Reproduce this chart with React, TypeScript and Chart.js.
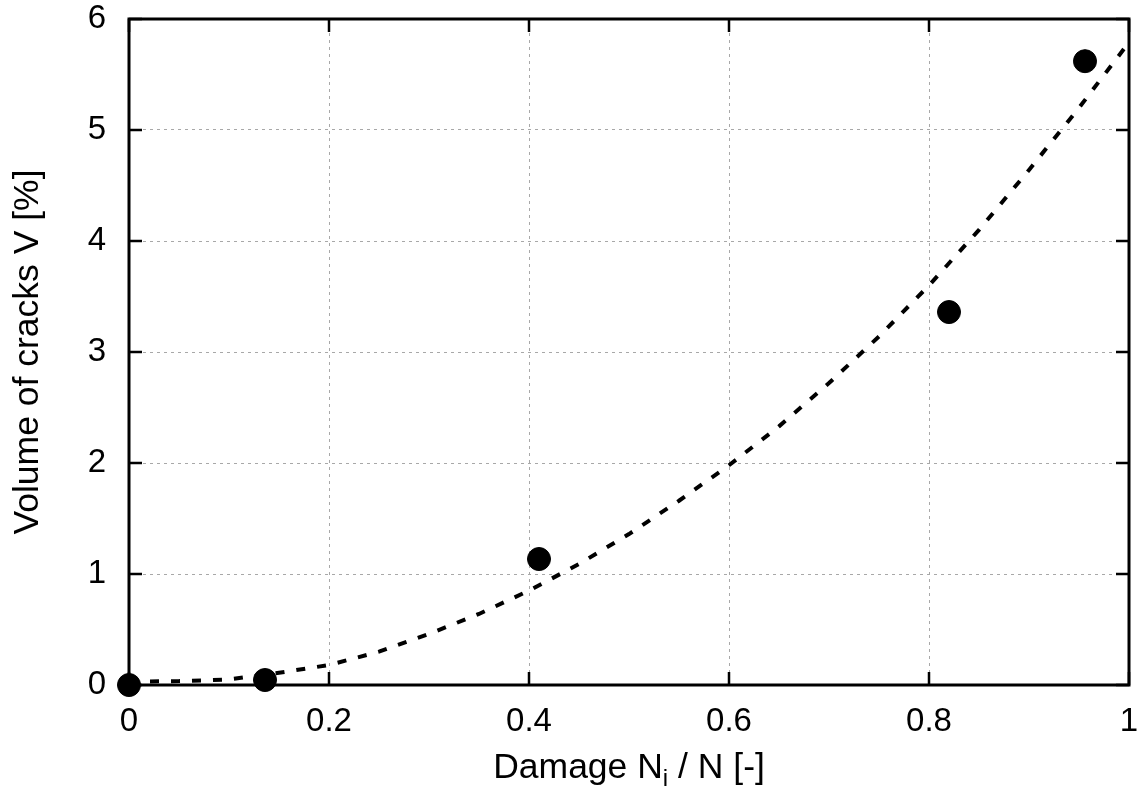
import React, { useEffect, useRef } from "react";
import { Chart, registerables } from "chart.js";

Chart.register(...registerables);

// Measured points
const damageX = [0, 0.136, 0.41, 0.82, 0.956];
const crackVolume = [0, 0.045, 1.135, 3.36, 5.62];

// Fitted trend curve
const fitX = [0, 0.05, 0.1, 0.15, 0.2, 0.25, 0.3, 0.35, 0.4, 0.45, 0.5, 0.55, 0.6, 0.65, 0.7, 0.75, 0.8, 0.85, 0.9, 0.95, 1.0];
const fitY = [0.03, 0.035, 0.05, 0.11, 0.18, 0.3, 0.46, 0.64, 0.85, 1.09, 1.36, 1.66, 1.98, 2.33, 2.72, 3.14, 3.6, 4.1, 4.64, 5.2, 5.79];

const xTicks = [0, 0.2, 0.4, 0.6, 0.8, 1];
const yTicks = [0, 1, 2, 3, 4, 5, 6];

const xTitleMain = "Damage N";
const xTitleSub = "i";
const xTitleRest = " / N [-]";
const yTitle = "Volume of cracks V [%]";

const FONT = "'Liberation Sans', Arial, sans-serif";

const framePlugin = {
  id: "framePlugin",
  beforeDatasetsDraw(chart: any) {
    const { ctx, chartArea: a, scales } = chart;
    ctx.save();
    ctx.strokeStyle = "#000";
    ctx.lineWidth = 2.5;
    ctx.setLineDash([]);
    const tl = 13;
    for (const v of xTicks) {
      const px = scales.x.getPixelForValue(v);
      ctx.beginPath();
      ctx.moveTo(px, a.bottom);
      ctx.lineTo(px, a.bottom - tl);
      ctx.moveTo(px, a.top);
      ctx.lineTo(px, a.top + tl);
      ctx.stroke();
    }
    for (const v of yTicks) {
      const py = scales.y.getPixelForValue(v);
      ctx.beginPath();
      ctx.moveTo(a.left, py);
      ctx.lineTo(a.left + tl, py);
      ctx.moveTo(a.right, py);
      ctx.lineTo(a.right - tl, py);
      ctx.stroke();
    }
    ctx.lineWidth = 3;
    ctx.strokeRect(a.left, a.top, a.right - a.left, a.bottom - a.top);
    ctx.restore();
  },
  afterDraw(chart: any) {
    const { ctx, chartArea: a } = chart;
    ctx.save();
    ctx.fillStyle = "#000";
    // x title with subscript
    const big = `35.5px ${FONT}`;
    const small = `24px ${FONT}`;
    ctx.font = big;
    const w1 = ctx.measureText(xTitleMain).width;
    const w3 = ctx.measureText(xTitleRest).width;
    ctx.font = small;
    const w2 = ctx.measureText(xTitleSub).width;
    const total = w1 + w2 + w3;
    const cx = (a.left + a.right) / 2;
    let x = cx - total / 2;
    const baseY = 778;
    ctx.textBaseline = "alphabetic";
    ctx.textAlign = "left";
    ctx.font = big;
    ctx.fillText(xTitleMain, x, baseY);
    x += w1;
    ctx.font = small;
    ctx.fillText(xTitleSub, x, baseY + 8);
    x += w2;
    ctx.font = big;
    ctx.fillText(xTitleRest, x, baseY);
    // y title rotated
    ctx.translate(38, (a.top + a.bottom) / 2);
    ctx.rotate(-Math.PI / 2);
    ctx.textAlign = "center";
    ctx.font = big;
    ctx.fillText(yTitle, 0, 0);
    ctx.restore();
  },
};

export default function App() {
  const ref = useRef<HTMLCanvasElement>(null);
  useEffect(() => {
    if (!ref.current) return;
    const chart = new Chart(ref.current, {
      type: "scatter",
      data: {
        datasets: [
          {
            type: "line",
            data: fitX.map((x, i) => ({ x, y: fitY[i] })),
            borderColor: "#000",
            borderWidth: 4,
            borderDash: [9, 12],
            borderCapStyle: "butt",
            pointRadius: 0,
            fill: false,
            tension: 0,
            clip: false,
          } as any,
          {
            data: damageX.map((x, i) => ({ x, y: crackVolume[i] })),
            backgroundColor: "#000",
            borderColor: "#000",
            pointRadius: 11.5,
            pointHoverRadius: 11.5,
            clip: false,
          } as any,
        ],
      },
      options: {
        responsive: false,
        animation: false,
        events: [],
        layout: { padding: { top: 19, right: 18, left: 0, bottom: 0 } },
        plugins: { legend: { display: false }, tooltip: { enabled: false } },
        scales: {
          x: {
            type: "linear",
            min: 0,
            max: 1,
            afterBuildTicks: (s: any) => {
              s.ticks = xTicks.map((v) => ({ value: v }));
            },
            afterFit: (s: any) => {
              s.height = 115;
              s.paddingLeft = 0;
              s.paddingRight = 0;
            },
            ticks: {
              color: "#000",
              font: { family: FONT, size: 33, lineHeight: 1 },
              padding: 20,
              maxRotation: 0,
              callback: (v: any) => String(v),
            },
            grid: {
              color: (c: any) => (c.tick && (c.tick.value === 0 || c.tick.value === 1) ? "rgba(0,0,0,0)" : "#a8a8a8"),
              lineWidth: 1,
              drawTicks: false,
            },
            border: { display: false, dash: [3, 4] },
          },
          y: {
            type: "linear",
            min: 0,
            max: 6,
            afterBuildTicks: (s: any) => {
              s.ticks = yTicks.map((v) => ({ value: v }));
            },
            afterFit: (s: any) => {
              s.width = 129;
              s.paddingTop = 0;
              s.paddingBottom = 0;
            },
            ticks: {
              color: "#000",
              font: { family: FONT, size: 33, lineHeight: 1 },
              padding: 23,
              callback: (v: any) => String(v),
            },
            grid: {
              color: (c: any) => (c.tick && (c.tick.value === 0 || c.tick.value === 6) ? "rgba(0,0,0,0)" : "#a8a8a8"),
              lineWidth: 1,
              drawTicks: false,
            },
            border: { display: false, dash: [3, 4] },
          },
        },
      },
      plugins: [framePlugin],
    });
    return () => chart.destroy();
  }, []);
  return (
    <div style={{ position: "fixed", left: 0, top: 0, width: 1147, height: 800, background: "#fff" }}>
      <canvas ref={ref} width={1147} height={800} />
    </div>
  );
}
